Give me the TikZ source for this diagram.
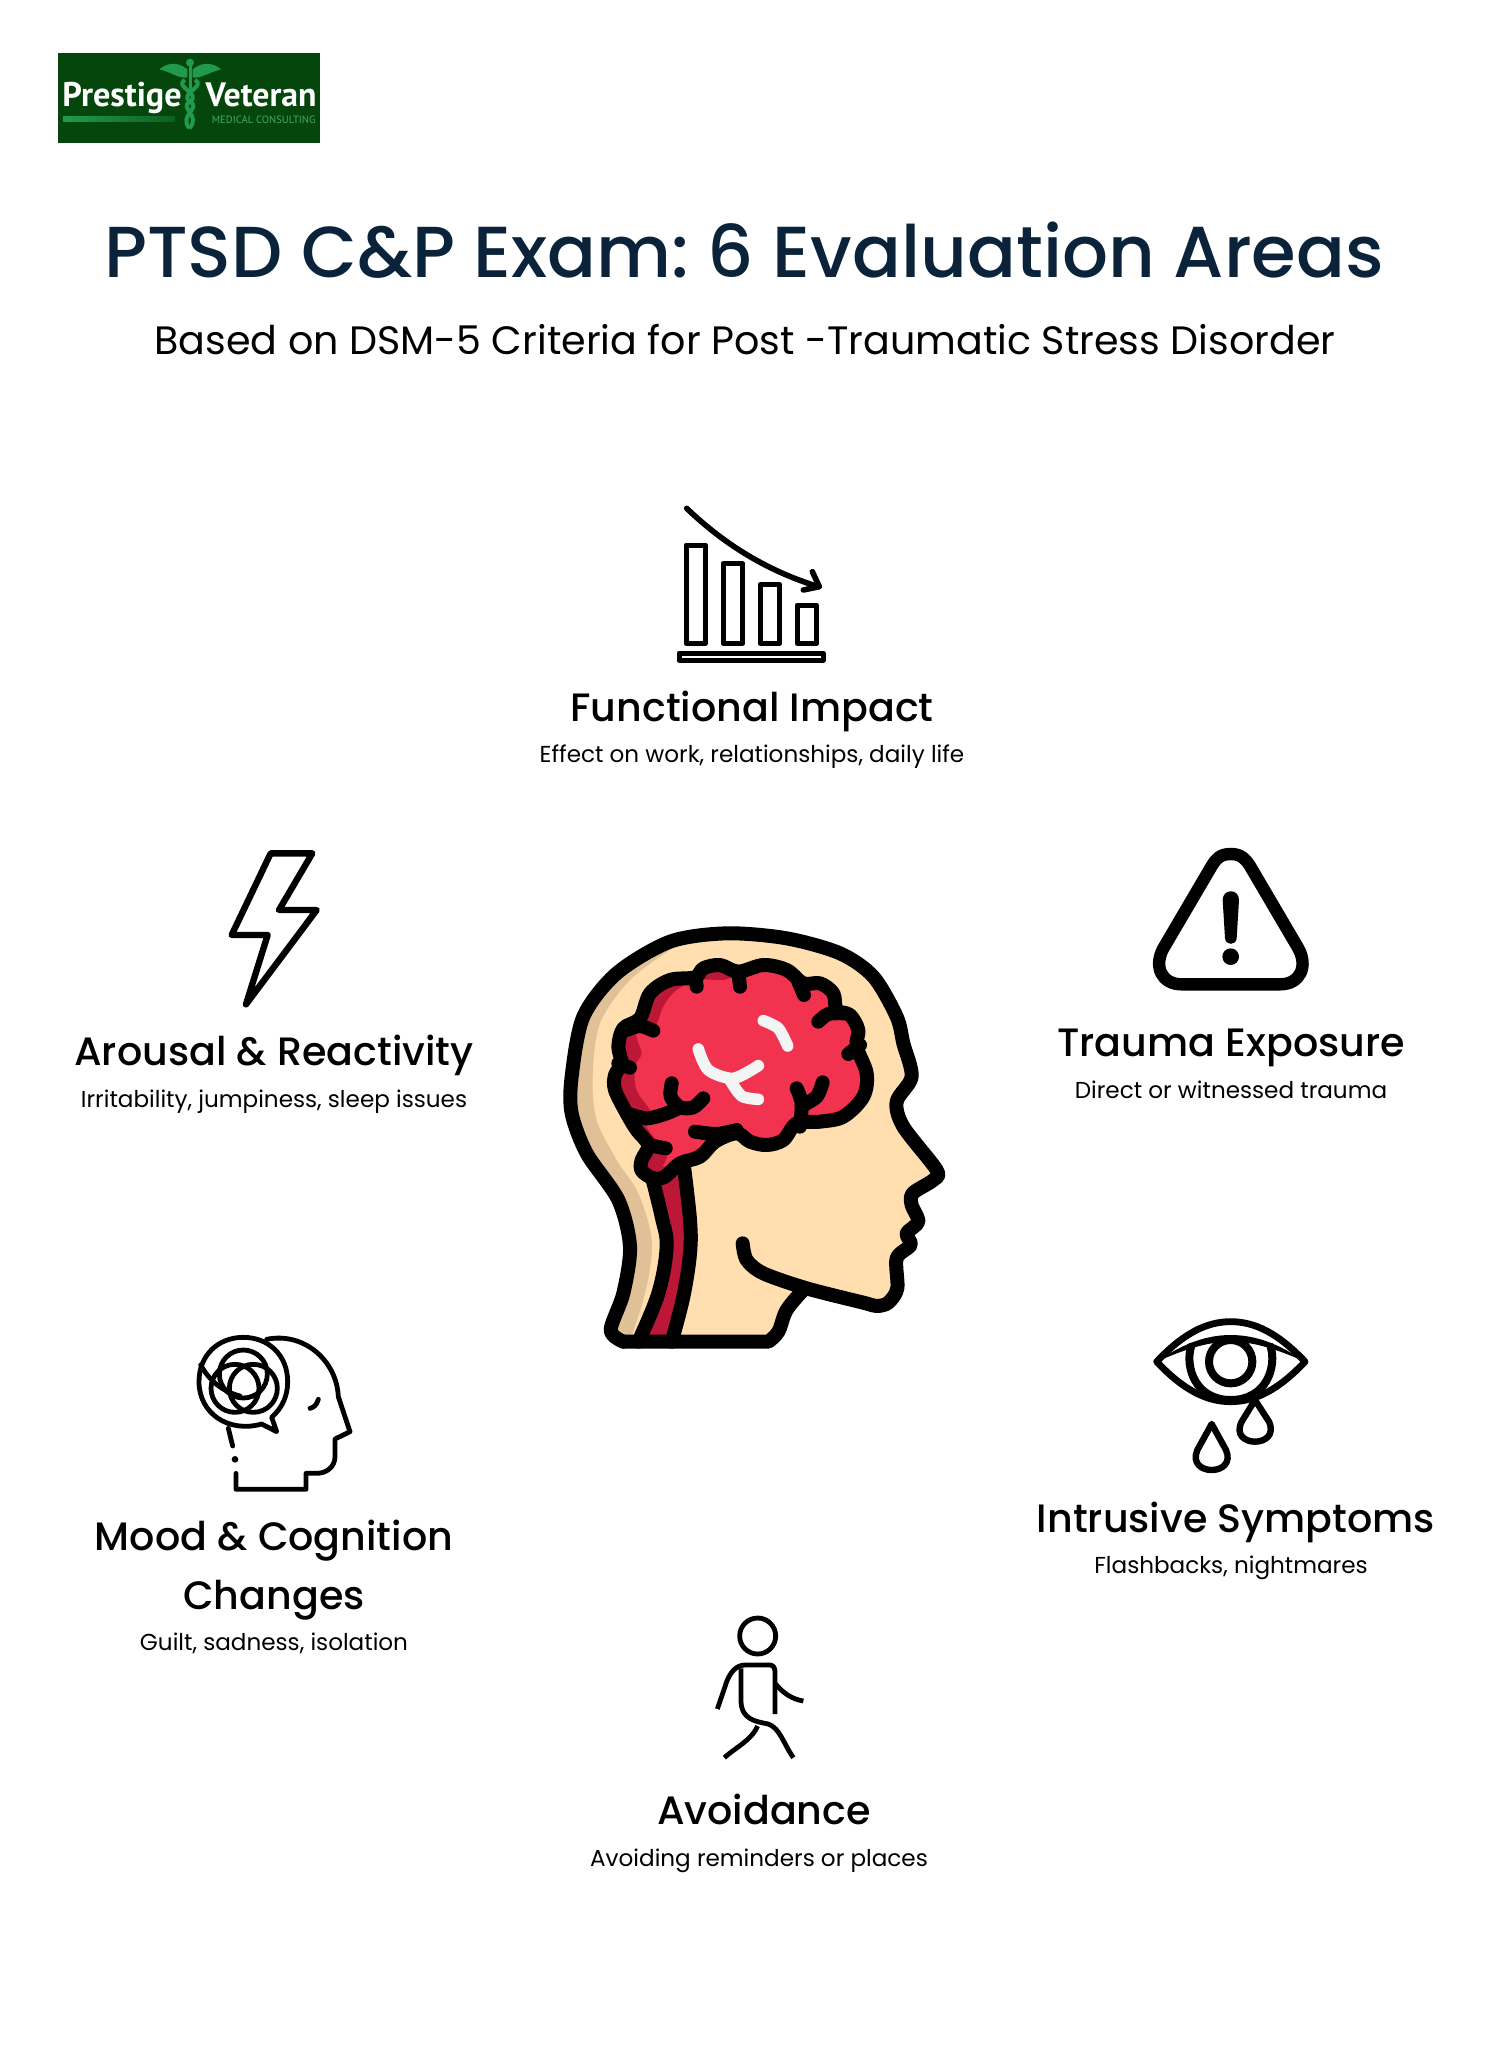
\documentclass[tikz,border=0pt]{standalone}
\usepackage{fontspec}
\usepackage{xcolor}
\setmainfont{Poppins}
\newfontfamily\poppinsmed{Poppins Medium}
\newfontfamily\logofont{PT Sans}
\definecolor{ptsd-navy}{RGB}{10, 35, 58}
\definecolor{ptsd-skin}{RGB}{255, 223, 176}
\definecolor{ptsd-shade}{RGB}{224, 192, 151}
\definecolor{ptsd-red1}{RGB}{242, 51, 79}
\definecolor{ptsd-red2}{RGB}{188, 23, 55}
\definecolor{ptsd-white}{RGB}{243, 245, 244}
\definecolor{logo-green1}{RGB}{5, 70, 12}
\definecolor{logo-green2}{RGB}{32, 155, 78}
\tikzset{
  heading/.style={font=\fontsize{19.8}{24}\poppinsmed, text=black, inner sep=0pt},
  detail/.style={font=\fontsize{11.55}{14}\selectfont, text=black, inner sep=0pt},
  icon/.style={draw=black, line width=3.2pt, line join=round, line cap=round},
  iconthin/.style={draw=black, line width=2.4pt, line join=round, line cap=round},
  headline/.style={draw=black, line width=7pt, line join=round, line cap=round},
}
\begin{document}
\begin{tikzpicture}[x=0.5pt, y=-0.5pt]
  \useasboundingbox (0, 0) rectangle (1490, 2048);

  % logo
  \fill[logo-green1] (58, 53) rectangle (320, 143);
  \shade[left color=logo-green2, right color=logo-green1!70!logo-green2] (63, 117) rectangle (175, 122);
  \node[font=\fontsize{17.1}{18}\logofont\bfseries, text=white, inner sep=0pt, anchor=west] (logo-left) at (62, 97.5) {Prestige};
  \node[font=\fontsize{16.9}{18}\logofont\bfseries, text=white, inner sep=0pt, anchor=east] (logo-right) at (317, 95) {Veteran};
  \node[font=\fontsize{5.3}{6}\logofont, text=logo-green2!85!white, inner sep=0pt, anchor=east] (logo-sub) at (316, 119.5) {MEDICAL CONSULTING};
  \begin{scope}[shift={(130, 40)}, scale=1/3]
    \fill[logo-green2] (180, 68) circle[radius=12];
    \fill[logo-green2] (176, 78) rectangle (185, 150);
    \fill[logo-green2] (172, 88) .. controls (140, 62) and (110, 70) .. (88, 88) .. controls (120, 95) and (150, 118) .. (172, 112) -- cycle;
    \fill[logo-green2] (188, 88) .. controls (220, 62) and (250, 70) .. (274, 88) .. controls (240, 95) and (210, 118) .. (188, 112) -- cycle;
    \draw[logo-green2, line width=2pt] (165, 120) .. controls (130, 140) and (215, 160) .. (180, 185) .. controls (145, 205) and (215, 225) .. (178, 265);
    \draw[logo-green2, line width=2pt] (195, 120) .. controls (230, 140) and (145, 160) .. (180, 185) .. controls (215, 205) and (145, 225) .. (178, 265);
  \end{scope}

  % titles
  \node[font=\fontsize{36.1}{42}\poppinsmed, text=ptsd-navy, inner sep=0pt] (title) at (744, 250) {PTSD C\&P Exam:\kern-0.09em{} 6 Evaluation Areas};
  \node[font=\fontsize{19.8}{24}\selectfont, text=black, inner sep=0pt] (subtitle) at (745, 340) {Based on DSM-5 Criteria for Post -Traumatic Stress Disorder};

  % labels
  \node[heading] (impact) at (752, 711) {Functional Impact};
  \node[detail] (impact-sub) at (752, 757) {Effect on work, relationships, daily life};
  \node[heading] (arousal) at (274, 1055) {Arousal \& Reactivity};
  \node[detail] (arousal-sub) at (274, 1102) {Irritability, jumpiness, sleep issues};
  \node[heading] (trauma) at (1231, 1048) {Trauma Exposure};
  \node[detail] (trauma-sub) at (1231, 1090) {Direct or witnessed trauma};
  \node[heading] (mood) at (274, 1541) {Mood \& Cognition};
  \node[heading] (changes) at (274, 1600) {Changes};
  \node[detail] (mood-sub) at (274, 1643) {Guilt, sadness, isolation};
  \node[heading] (intrusive) at (1236, 1522) {Intrusive Symptoms};
  \node[detail] (intrusive-sub) at (1231, 1568) {Flashbacks, nightmares};
  \node[heading] (avoid) at (764, 1809) {Avoidance};
  \node[detail] (avoid-sub) at (759, 1861) {Avoiding reminders or places};

  % chart
  \begin{scope}[shift={(660, 490)}, scale=1/3, iconthin/.append style={line width=2.5pt}]
    \draw[iconthin] (78, 165) rectangle (137, 460);
    \draw[iconthin] (189, 221) rectangle (248, 460);
    \draw[iconthin] (300, 284) rectangle (359, 460);
    \draw[iconthin] (411, 345) rectangle (470, 460);
    \draw[iconthin] (57, 489) rectangle (489, 511);
    \draw[iconthin, line width=2.8pt] (80, 55) .. controls (200, 170) and (330, 245) .. (475, 290);
    \draw[iconthin, line width=2.8pt] (457, 245) -- (478, 290) -- (430, 300);
  \end{scope}

  % bolt
  \begin{scope}[shift={(210, 835)}, scale=1/3]
    \draw[icon] (182, 55) -- (307, 55) -- (207, 225) -- (320, 225) -- (108, 508) -- (173, 300) -- (65, 300) -- cycle;
  \end{scope}

  % warning
  \begin{scope}[shift={(1140, 835)}, scale=1/3]
    \draw[black, line width=6.2pt, line join=round] (272, 57) .. controls (240, 57) and (228, 72) .. (215, 93) -- (70, 340) .. controls (40, 395) and (65, 448) .. (125, 448) -- (420, 448) .. controls (480, 448) and (505, 395) .. (475, 340) -- (330, 93) .. controls (316, 72) and (304, 57) .. cycle;
    \fill[black] (248, 195) .. controls (248, 160) and (297, 160) .. (297, 195) -- (290, 310) .. controls (288, 332) and (257, 332) .. (255, 310) -- cycle;
    \fill[black] (272, 365) circle[radius=25];
  \end{scope}

  % eye
  \begin{scope}[shift={(1120, 1290)}, scale=1/3]
    \draw[iconthin, line width=3.4pt] (110, 215) .. controls (190, 130) and (260, 95) .. (332, 95) .. controls (405, 95) and (475, 130) .. (555, 215) .. controls (475, 300) and (405, 335) .. (332, 335) .. controls (260, 335) and (190, 300) .. cycle;
    \fill[black] (110, 215) .. controls (190, 160) and (260, 135) .. (332, 135) .. controls (405, 135) and (475, 160) .. (555, 215) .. controls (475, 180) and (405, 155) .. (332, 155) .. controls (260, 155) and (190, 180) .. cycle;
    \draw[iconthin, line width=4pt] (213, 170) .. controls (195, 230) and (225, 330) .. (332, 330) .. controls (440, 330) and (470, 230) .. (452, 170);
    \draw[iconthin, line width=4pt] (332, 215) circle[radius=65];
    \draw[icon] (275, 402) -- (232, 480) .. controls (215, 520) and (245, 540) .. (275, 540) .. controls (305, 540) and (335, 520) .. (318, 480) -- cycle;
    \draw[icon] (405, 330) -- (365, 395) .. controls (345, 435) and (375, 455) .. (405, 455) .. controls (435, 455) and (465, 435) .. (447, 395) -- cycle;
  \end{scope}

  % mood head
  \begin{scope}[shift={(160, 1300)}, scale=1/3]
    \draw[iconthin] (320, 118) .. controls (430, 95) and (530, 180) .. (535, 290) -- (570, 395) -- (525, 417) -- (525, 470) .. controls (525, 500) and (500, 520) .. (470, 520) -- (438, 520) -- (438, 568) -- (228, 568) -- (228, 520);
    \draw[iconthin] (205, 385) -- (218, 438);
    \fill[black] (225, 478) circle[radius=10];
    \draw[iconthin] (475, 298) .. controls (470, 315) and (462, 322) .. (450, 325);
    \draw[iconthin] (305, 372) .. controls (205, 400) and (117, 340) .. (117, 245) .. controls (117, 165) and (175, 112) .. (250, 112) .. controls (325, 112) and (383, 165) .. (383, 245) .. controls (383, 290) and (365, 325) .. (335, 352) -- (350, 395) -- cycle;
    \draw[iconthin] (250, 222) circle[radius=72];
    \draw[iconthin] (225, 265) circle[radius=72];
    \draw[iconthin] (280, 265) circle[radius=72];
    \draw[iconthin] (122, 195) .. controls (150, 245) and (190, 275) .. (240, 288);
  \end{scope}

  % walker
  \begin{scope}[shift={(680, 1600)}, scale=1/3]
    \draw[iconthin] (233, 108) circle[radius=54];
    \draw[iconthin, line cap=butt] (112, 327) -- (135, 260) .. controls (148, 215) and (170, 195) .. (195, 195) -- (270, 195) .. controls (280, 195) and (285, 205) .. (285, 215) -- (285, 342);
    \draw[iconthin, line cap=butt] (285, 250) .. controls (310, 280) and (335, 297) .. (370, 303);
    \draw[iconthin, line cap=butt] (183, 205) -- (183, 305) .. controls (185, 360) and (230, 365) .. (265, 372) .. controls (300, 385) and (310, 430) .. (340, 473);
    \draw[iconthin, line cap=butt] (233, 378) .. controls (215, 420) and (170, 440) .. (133, 473);
  \end{scope}

  % central head
  \begin{scope}[shift={(520, 900)}, scale=1/3]
    \coordinate (neck-left) at (310, 1325);
    \coordinate (neck-right) at (745, 1325);
    \fill[ptsd-skin] plot[smooth, tension=0.55] coordinates {(270, 1290) (310, 1180) (330, 1040) (295, 900) (200, 760) (155, 640) (155, 530) (190, 350) (290, 220) (450, 125) (620, 100) (800, 115) (960, 160) (1060, 230) (1130, 350) (1150, 430) (1175, 530)} -- (1130, 600) -- (1145, 680) -- (1250, 815) -- (1175, 880) -- (1195, 965) -- (1165, 1000) -- (1170, 1040) -- (1130, 1080) -- (1130, 1160) -- (1100, 1212) -- (1075, 1218) -- (860, 1165) -- (800, 1230) -- (770, 1300) -- (neck-right) -- (neck-left) -- cycle;
    % shaded back of the head
    \fill[ptsd-shade] plot[smooth, tension=0.55] coordinates {(270, 1290) (310, 1180) (330, 1040) (295, 900) (200, 760) (155, 640) (155, 530) (190, 350) (290, 220) (450, 140)} -- plot[smooth, tension=0.55] coordinates {(450, 150) (330, 240) (240, 370) (218, 530) (230, 660) (290, 780) (355, 880) (395, 1020) (380, 1160) (335, 1310)} -- (neck-left) -- cycle;
    % spinal cord
    \fill[ptsd-red2] (400, 820) -- (490, 790) .. controls (525, 950) and (525, 1130) .. (455, 1325) -- (355, 1325) .. controls (430, 1150) and (450, 1020) .. cycle;
    \draw[headline] plot[smooth, tension=0.6] coordinates {(398, 840) (425, 950) (440, 1040) (415, 1180) (355, 1325)};
    \draw[headline] plot[smooth, tension=0.6] coordinates {(492, 800) (510, 960) (510, 1060) (490, 1190) (455, 1325)};
    % brain
    \path[fill=ptsd-red2] plot[smooth cycle, tension=0.55] coordinates {(525, 232) (450, 240) (390, 280) (360, 355) (310, 385) (295, 440) (305, 490) (285, 525) (285, 570) (320, 640) (350, 690) (385, 735) (365, 780) (365, 812) (400, 835) (435, 830) (480, 790) (540, 770) (585, 725) (650, 700) (690, 725) (740, 735) (790, 720) (830, 670) (900, 665) (970, 650) (1030, 590) (1040, 520) (1010, 440) (1015, 390) (990, 345) (950, 330) (940, 280) (900, 250) (850, 250) (800, 210) (730, 195) (655, 215) (600, 195) (550, 205)};
    \fill[ptsd-red1] plot[smooth cycle, tension=0.55] coordinates {(540, 240) (610, 240) (655, 225) (730, 205) (800, 220) (850, 260) (900, 260) (940, 300) (985, 350) (1005, 395) (1000, 445) (1030, 520) (1020, 590) (960, 640) (850, 650) (800, 710) (740, 725) (690, 710) (650, 690) (570, 725) (490, 770) (430, 800) (440, 760) (380, 680) (395, 640) (350, 570) (345, 500) (365, 460) (350, 400) (405, 380) (430, 320) (470, 270)};
    \draw[headline] plot[smooth cycle, tension=0.55] coordinates {(525, 232) (450, 240) (390, 280) (360, 355) (310, 385) (295, 440) (305, 490) (285, 525) (285, 570) (320, 640) (350, 690) (385, 735) (365, 780) (365, 812) (400, 835) (435, 830) (480, 790) (540, 770) (585, 725) (650, 700) (690, 725) (740, 735) (790, 720) (830, 670) (900, 665) (970, 650) (1030, 590) (1040, 520) (1010, 440) (1015, 390) (990, 345) (950, 330) (940, 280) (900, 250) (850, 250) (800, 210) (730, 195) (655, 215) (600, 195) (550, 205)};
    % folds
    \draw[headline] (530, 260) -- (527, 235);
    \draw[headline] (660, 260) -- (655, 215);
    \draw[headline] (852, 285) -- (835, 245);
    \draw[headline] plot[smooth] coordinates {(895, 365) (925, 342) (975, 340)};
    \draw[headline] (985, 462) -- (1020, 435);
    \draw[headline] plot[smooth] coordinates {(400, 392) (360, 378) (320, 390)};
    \draw[headline] (330, 503) -- (295, 490);
    \draw[headline] plot[smooth] coordinates {(455, 550) (452, 590) (480, 622) (520, 622) (550, 595)};
    \draw[headline] plot[smooth] coordinates {(320, 640) (380, 655) (440, 640) (480, 622)};
    \draw[headline] plot[smooth] coordinates {(525, 695) (590, 702) (650, 690)};
    \draw[headline] plot[smooth] coordinates {(830, 565) (845, 610) (840, 680)};
    \draw[headline] plot[smooth] coordinates {(908, 547) (890, 590) (845, 618)};
    \draw[headline] (385, 735) -- (437, 745);
    % highlights
    \draw[ptsd-white, line width=5.8pt, line cap=round] plot[smooth] coordinates {(535, 447) (565, 510) (640, 535) (715, 497)};
    \draw[ptsd-white, line width=5.8pt, line cap=round] plot[smooth] coordinates {(630, 540) (665, 588) (715, 598)};
    \draw[ptsd-white, line width=5.8pt, line cap=round] plot[smooth] coordinates {(730, 362) (775, 385) (803, 438)};
    % outline of the head
    \draw[headline] plot[smooth, tension=0.5] coordinates {(310, 1325) (272, 1290) (310, 1180) (330, 1040) (295, 900) (200, 760) (155, 640) (155, 530) (190, 350) (290, 220) (450, 125) (620, 100) (800, 115) (960, 160) (1060, 230) (1130, 350) (1150, 430) (1175, 530) (1130, 605) (1150, 680) (1250, 810) (1240, 840) (1178, 880) (1175, 915) (1195, 965) (1160, 1000) (1172, 1035) (1130, 1075) (1132, 1165) (1105, 1208) (1070, 1218) (1030, 1208) (860, 1165) (730, 1120) (680, 1080) (668, 1030)};
    \draw[headline] plot[smooth, tension=0.6] coordinates {(850, 1170) (800, 1230) (775, 1295) (745, 1325)} -- (neck-left);
  \end{scope}
\end{tikzpicture}
\end{document}
